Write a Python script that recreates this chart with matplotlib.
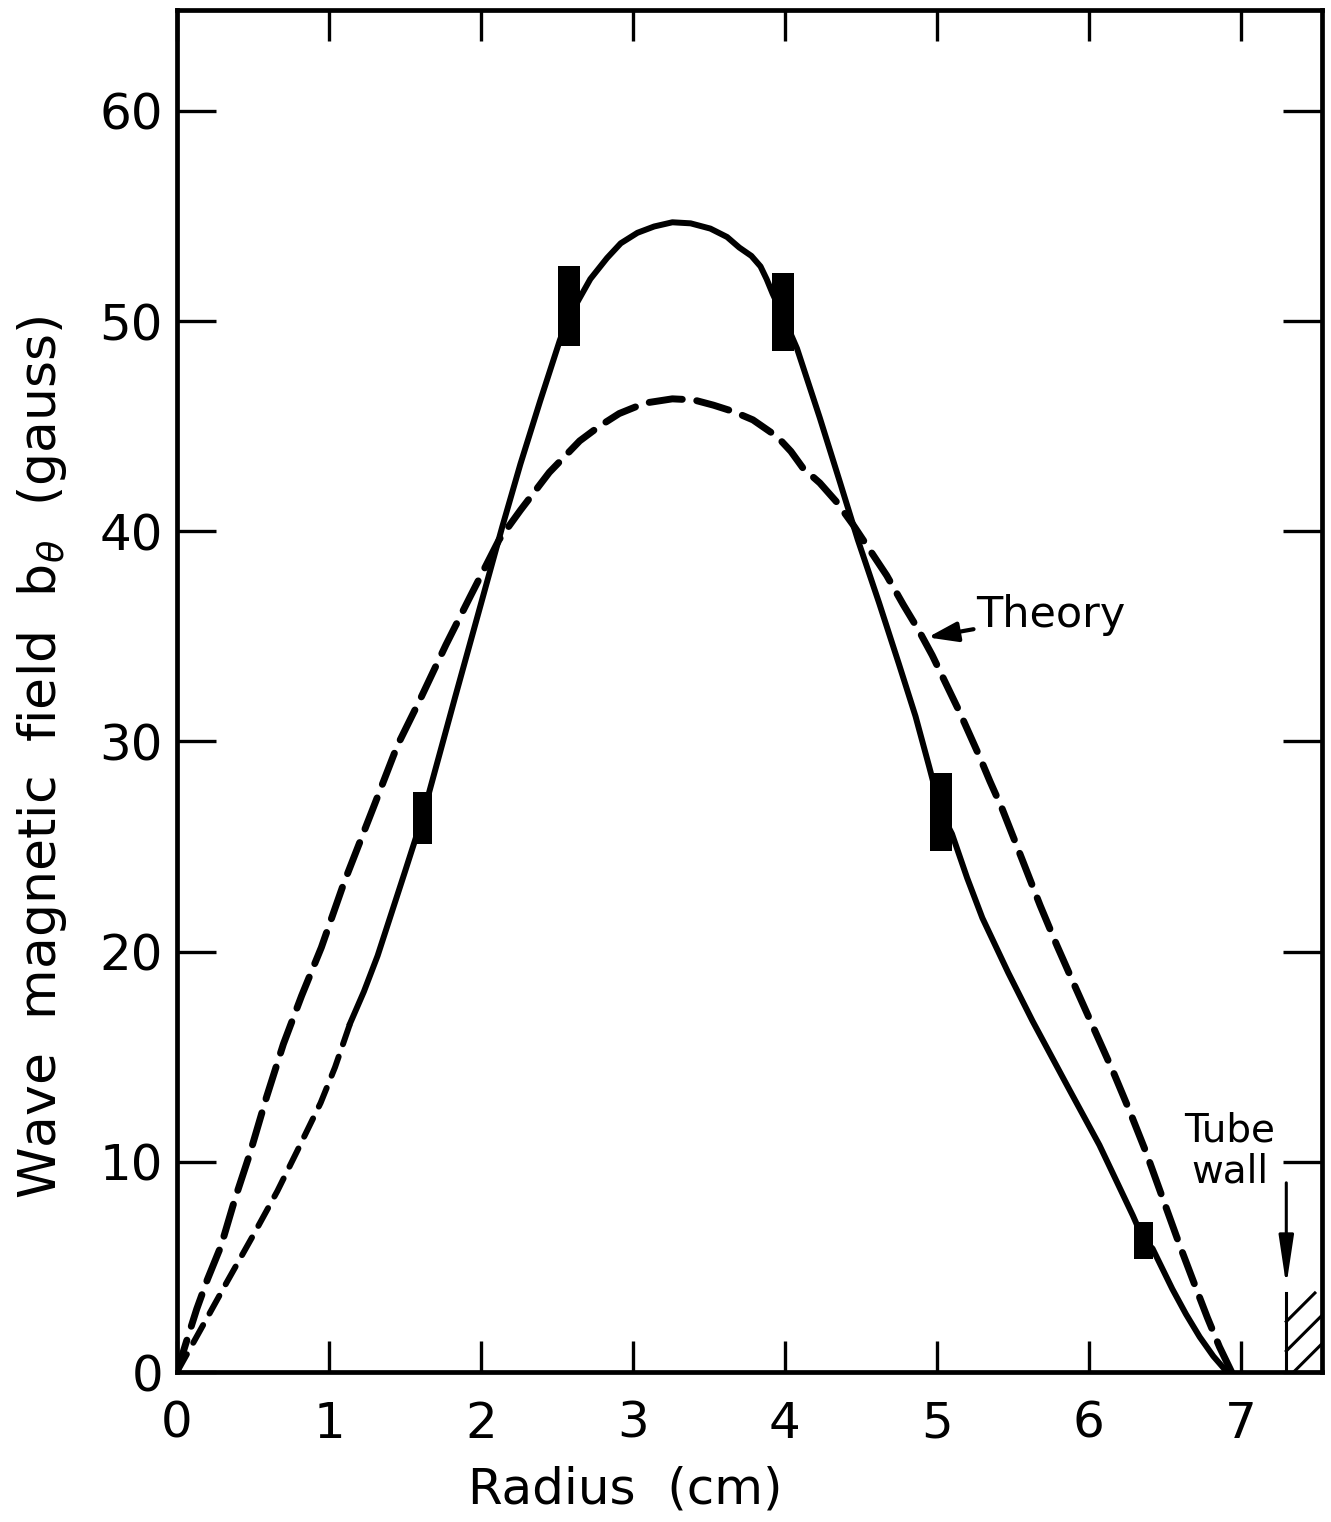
import numpy as np
import matplotlib
matplotlib.use("Agg")
import matplotlib.pyplot as plt

# ---- data ----
# theory curve (dashed)
theory_r = [0.00, 0.06, 0.13, 0.20, 0.29, 0.38, 0.48, 0.59, 0.70, 0.82, 0.95,
            1.10, 1.30, 1.45, 1.60, 1.77, 1.93, 2.12, 2.26, 2.45, 2.65, 2.78,
            2.91, 3.08, 3.26, 3.40, 3.53, 3.66, 3.79, 3.95, 4.04, 4.12, 4.23,
            4.34, 4.45, 4.56, 4.67, 4.78, 4.88, 4.97, 5.05, 5.15, 5.28, 5.35,
            5.43, 5.55, 5.68, 5.79, 5.90, 6.03, 6.16, 6.27, 6.38, 6.49, 6.60,
            6.70, 6.78, 6.86, 6.94]
theory_b = [0.0, 1.4, 3.0, 4.4, 6.0, 8.2, 10.4, 13.1, 15.6, 17.9, 20.2,
            23.3, 27.0, 29.8, 32.0, 34.6, 36.9, 39.6, 41.0, 42.8, 44.3, 45.0,
            45.6, 46.1, 46.3, 46.25, 46.0, 45.7, 45.3, 44.5, 43.8, 43.0, 42.3,
            41.4, 40.3, 39.1, 37.9, 36.5, 35.3, 34.1, 32.9, 31.4, 29.3, 28.1,
            26.8, 24.6, 22.2, 20.3, 18.5, 16.4, 14.3, 12.4, 10.4, 8.2, 6.0,
            4.1, 2.6, 1.2, 0.0]

# measured profile, extrapolated part near the axis (short dashes)
meas_r_extrap = [0.00, 0.10, 0.20, 0.33, 0.505, 0.66, 0.79, 0.945, 1.04, 1.14]
meas_b_extrap = [0.0, 1.3, 2.6, 4.3, 6.55, 8.6, 10.5, 12.8, 14.5, 16.6]

# measured profile, solid line
meas_r = [1.14, 1.23, 1.32, 1.41, 1.50, 1.58, 1.615, 1.66, 1.83, 2.01, 2.14,
          2.26, 2.39, 2.52, 2.58, 2.65, 2.72, 2.83, 2.92, 3.03, 3.14, 3.26,
          3.38, 3.51, 3.62, 3.70, 3.78, 3.84, 3.88, 3.92, 3.99, 4.08, 4.23,
          4.36, 4.48, 4.62, 4.75, 4.86, 4.95, 5.03, 5.10, 5.20, 5.30, 5.47,
          5.63, 5.86, 6.07, 6.29, 6.36, 6.42, 6.55, 6.64, 6.73, 6.82, 6.91]
meas_b = [16.6, 18.1, 19.8, 21.8, 23.8, 25.6, 26.4, 27.6, 32.1, 36.8, 40.2,
          43.2, 46.2, 49.1, 50.2, 51.1, 52.0, 53.0, 53.7, 54.2, 54.5, 54.7,
          54.65, 54.4, 54.0, 53.5, 53.1, 52.6, 52.0, 51.3, 50.2, 48.7, 45.4,
          42.4, 39.6, 36.6, 33.7, 31.2, 28.8, 26.6, 25.6, 23.5, 21.6, 19.0,
          16.7, 13.6, 10.8, 7.45, 6.3, 5.87, 3.95, 2.75, 1.67, 0.75, 0.0]

# error bars (drawn as solid blocks)
err_r = [1.615, 2.58, 3.99, 5.03, 6.36]
err_lo = [25.1, 48.8, 48.6, 24.8, 5.37]
err_hi = [27.6, 52.6, 52.3, 28.5, 7.13]
err_w = [0.125, 0.15, 0.145, 0.145, 0.12]

WALL_R = 7.30
WALL_TOP = 3.76

plt.rcParams.update({"font.family": "DejaVu Sans", "mathtext.fontset": "dejavusans"})

fig = plt.figure(figsize=(13.31, 15.22), dpi=100)
ax = fig.add_axes([177 / 1331, 150 / 1522, 1145 / 1331, 1362 / 1522])
ax.set_xlim(0, 7.535)
ax.set_ylim(0, 64.8)

# curves
ax.plot(theory_r, theory_b, color="black", lw=5.0, dashes=(4.8, 2.1),
        dash_capstyle="round", dash_joinstyle="round", zorder=3)
ax.plot(meas_r_extrap, meas_b_extrap, color="black", lw=4.3, dashes=(3.4, 2.2),
        dash_capstyle="round", dash_joinstyle="round", zorder=3)
ax.plot(meas_r, meas_b, color="black", lw=4.3, solid_joinstyle="round", zorder=3)

# measured points with error range
heights = np.array(err_hi) - np.array(err_lo)
ax.bar(err_r, heights, bottom=err_lo, width=err_w, color="black",
       edgecolor="black", linewidth=0, zorder=4)

# annotations
ax.annotate("Theory", xy=(4.94, 34.95), xytext=(5.26, 36.0), fontsize=31,
            ha="left", va="center",
            arrowprops=dict(arrowstyle="-|>,head_length=0.6,head_width=0.2",
                            lw=3, color="black", mutation_scale=30,
                            shrinkA=0, shrinkB=0))

ax.text(6.93, 10.5, "Tube\nwall", fontsize=28, ha="center", va="center",
        linespacing=1.1)
ax.annotate("", xy=(WALL_R, 4.1), xytext=(WALL_R, 9.0),
            arrowprops=dict(arrowstyle="-|>,head_length=1.0,head_width=0.15",
                            lw=2.2, color="black", mutation_scale=30,
                            shrinkA=0, shrinkB=0))

# tube wall: hatched strip
xr = ax.get_xlim()[1]
ax.plot([WALL_R, WALL_R], [0, WALL_TOP], color="black", lw=2.2, zorder=3)
slope = 7.22  # 45 degrees on screen
for y0 in (-0.35, 1.0, 2.4):
    xs = max(WALL_R, WALL_R + (0 - y0) / slope)
    xe = min(xr, WALL_R + (WALL_TOP - y0) / slope)
    ax.plot([xs, xe], [y0 + slope * (xs - WALL_R), y0 + slope * (xe - WALL_R)],
            color="black", lw=2.2, zorder=3)

# axes styling
for s in ax.spines.values():
    s.set_linewidth(3.4)
ax.set_xticks(range(0, 8))
ax.set_yticks(range(0, 61, 10))
ax.tick_params(axis="x", which="both", direction="in", length=22, width=2.4,
               top=True, bottom=True, labelsize=36, pad=20)
ax.tick_params(axis="y", which="both", direction="in", length=28, width=2.4,
               left=True, right=True, labelsize=36, pad=10)

fig.text(625 / 1331, 1 - 1490 / 1522, "Radius  (cm)", fontsize=36,
         ha="center", va="center")
fig.text(42 / 1331, 1 - 757 / 1522,
         r"Wave  magnetic  field  b$_{\theta}$  (gauss)", fontsize=37.5,
         rotation=90, ha="center", va="center")

fig.savefig("out.png", dpi=100)
